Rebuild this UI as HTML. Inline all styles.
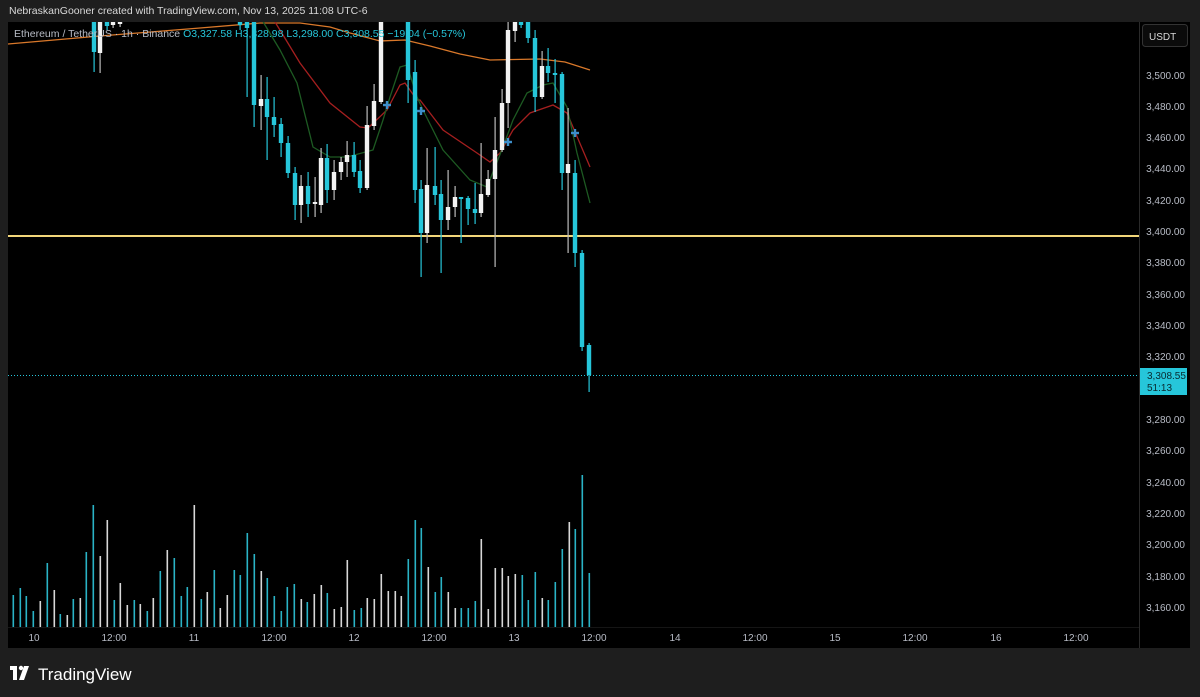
<!DOCTYPE html>
<html><head><meta charset="utf-8"><style>
body{margin:0;width:1200px;height:697px;background:#1e1e1e;overflow:hidden;font-family:"Liberation Sans",sans-serif}
svg{position:absolute;left:0;top:0}
</style></head><body>
<svg id="s" width="1200" height="697" xmlns="http://www.w3.org/2000/svg">
<rect x="0" y="0" width="1200" height="697" fill="#1e1e1e"/>
<rect x="8" y="22" width="1182" height="626" fill="#000"/>
<line x1="1139.5" y1="22" x2="1139.5" y2="648" stroke="#2a2a2a"/>
<line x1="8" y1="627.5" x2="1139" y2="627.5" stroke="#151515"/>
<g id="vol"></g>
<g id="ma" fill="none" stroke-width="1.3">
<polyline stroke="#d9782a" points="8,44 100,36 200,28 260,23 300,23 330,27 350,33 380,41 405,40 430,46 460,54 490,60 540,59 565,62 590,70"/>
<polyline stroke="#a51f1f" points="275,22 283,35 300,63 330,103 360,127 368,128 387,110 400,85 405,83 417,100 420,100 443,130 477,153 490,162 500,153 513,130 530,113 553,105 567,113 590,167"/>
<polyline stroke="#1d5a22" points="262,20 280,50 297,83 313,147 330,157 347,157 373,150 383,120 390,97 400,67 407,65 417,97 423,110 443,150 470,180 487,187 503,147 513,120 527,93 543,85 553,83 567,107 577,153 590,203"/>
</g>
<line x1="8" y1="236" x2="1139" y2="236" stroke="#f2d67a" stroke-width="2"/>
<line x1="8" y1="375.5" x2="1139" y2="375.5" stroke="#26c6da" stroke-dasharray="1,2"/>
<g id="cd"></g>
<g fill="#3d8ec9" id="plus"></g>
<rect x="0" y="0" width="1200" height="22" fill="#1e1e1e"/>
<text x="9" y="14" fill="#d8d8d8" font-size="10.5">NebraskanGooner created with TradingView.com, Nov 13, 2025 11:08 UTC-6</text>
<text x="14" y="37" font-size="10.5" fill="#b8bcc6">Ethereum / TetherUS · 1h · Binance <tspan fill="#26c6da">O3,327.58 H3,328.98 L3,298.00 C3,308.55 −19.04 (−0.57%)</tspan></text>
<rect x="1142.5" y="24.5" width="45" height="22" rx="3" fill="#0b0b0b" stroke="#333"/>
<text x="1149" y="40" fill="#d8d8d8" font-size="10">USDT</text>
<g fill="#b8bcc6" font-size="10" text-anchor="end" id="pl">
<text x="1185" y="79">3,500.00</text><text x="1185" y="110">3,480.00</text><text x="1185" y="141">3,460.00</text><text x="1185" y="172">3,440.00</text><text x="1185" y="204">3,420.00</text><text x="1185" y="235">3,400.00</text><text x="1185" y="266">3,380.00</text><text x="1185" y="298">3,360.00</text><text x="1185" y="329">3,340.00</text><text x="1185" y="360">3,320.00</text><text x="1185" y="423">3,280.00</text><text x="1185" y="454">3,260.00</text><text x="1185" y="486">3,240.00</text><text x="1185" y="517">3,220.00</text><text x="1185" y="548">3,200.00</text><text x="1185" y="580">3,180.00</text><text x="1185" y="611">3,160.00</text>
</g>
<rect x="1140" y="368" width="47" height="27" fill="#26c6da"/>
<text x="1147" y="379" fill="#0a2a30" font-size="10">3,308.55</text>
<text x="1147" y="391" fill="#0a2a30" font-size="10">51:13</text>
<g fill="#b8bcc6" font-size="10" text-anchor="middle">
<text x="34" y="641">10</text><text x="114" y="641">12:00</text><text x="194" y="641">11</text><text x="274" y="641">12:00</text><text x="354" y="641">12</text><text x="434" y="641">12:00</text><text x="514" y="641">13</text><text x="594" y="641">12:00</text><text x="675" y="641">14</text><text x="755" y="641">12:00</text><text x="835" y="641">15</text><text x="915" y="641">12:00</text><text x="996" y="641">16</text><text x="1076" y="641">12:00</text>
</g>
<g fill="#fff"><rect x="10" y="666" width="7" height="4"/><rect x="13" y="666" width="4" height="14"/><circle cx="21" cy="668" r="2.2"/><polygon points="24,666 29,666 24,680 19,680"/></g>
<text x="38" y="680" fill="#fff" font-size="17">TradingView</text>
</svg>
<script>
var NS="http://www.w3.org/2000/svg";
function el(p,t,a){var e=document.createElementNS(NS,t);for(var k in a)e.setAttribute(k,a[k]);p.appendChild(e);return e;}
var C="#26c6da",W="#f2f2f2";
var vol=[[13,32,1],[20,39,1],[26,31,1],[33,16,1],[40,26,0],[47,64,1],[54,37,0],[60,13,1],[67,12,0],[73,28,1],[80,29,0],[86,75,1],[93,122,1],[100,71,0],[107,107,0],[114,27,1],[120,44,0],[127,22,0],[134,27,1],[140,23,0],[147,16,1],[153,29,0],[160,56,1],[167,77,0],[174,69,1],[181,31,1],[187,40,1],[194,122,0],[201,28,1],[207,35,0],[214,57,1],[220,19,0],[227,32,0],[234,57,1],[240,52,1],[247,94,1],[254,73,1],[261,56,0],[267,49,1],[274,31,1],[281,16,1],[287,40,1],[294,43,1],[301,28,0],[307,25,1],[314,33,0],[321,42,0],[327,34,1],[334,18,0],[341,20,0],[347,67,0],[354,17,1],[361,19,1],[367,29,0],[374,28,0],[381,53,0],[388,36,0],[395,36,0],[401,31,0],[408,68,1],[415,107,1],[421,99,1],[428,60,0],[435,35,1],[441,50,1],[448,35,0],[455,19,0],[461,19,1],[468,19,1],[475,26,1],[481,88,0],[488,18,0],[495,59,0],[502,59,0],[508,51,0],[515,53,0],[522,52,1],[528,27,1],[535,55,1],[542,29,0],[548,27,1],[555,45,1],[562,78,1],[569,105,0],[575,98,1],[582,152,1],[589,54,1]];
var g=document.getElementById("vol");
vol.forEach(function(v){el(g,"rect",{x:v[0]-0.5,y:627-v[1],width:1.6,height:v[1],fill:v[2]?"#2ab3c6":"#d8d8d8"});});
var cd=[[94,22,52,22,72,1],[100,22,53,22,73,0],[107,22,26,22,30,1],[113,22,25,22,28,0],[120,22,24,22,27,0],[240,22,25,22,30,1],[247,22,28,22,97,1],[254,22,105,22,127,1],
[261,99,106,75,130,0],[267,99,117,77,160,1],[274,117,125,97,137,1],[281,124,143,118,157,1],[288,143,173,136,178,1],[295,173,205,167,220,1],[301,186,205,175,223,0],[308,186,204,172,217,1],[315,202,204,177,217,0],[321,158,205,148,213,0],[327,158,190,144,203,1],[334,172,190,160,200,0],[341,162,172,157,180,0],[347,155,162,141,177,0],[354,155,172,142,177,1],[360,171,188,160,193,1],[367,125,188,106,190,0],[374,101,126,84,130,0],[381,22,102,22,104,0],
[408,22,80,22,103,1],[415,72,190,60,203,1],[421,189,233,180,277,1],[427,185,233,148,243,0],[435,186,195,147,205,1],[441,194,220,180,273,1],[448,207,220,170,230,0],[455,197,207,186,217,0],[461,197,199,197,243,1],[468,198,209,196,225,1],[475,209,213,183,224,1],[481,194,213,143,217,0],[488,179,195,170,197,0],[495,150,179,117,267,0],[502,103,150,89,152,0],[508,30,103,22,128,0],[515,22,31,22,42,0],[521,22,25,22,28,1],[528,22,38,22,43,1],[535,38,97,30,112,1],[542,66,97,51,99,0],[548,66,73,48,82,1],[555,73,75,59,103,1],[562,74,173,72,190,1],[568,164,173,108,253,0],[575,173,253,160,267,1],[582,253,347,250,351,1],[589,345,375,343,392,1]];
var c=document.getElementById("cd");
cd.forEach(function(d){var col=d[5]?C:W;el(c,"rect",{x:d[0]-0.5,y:d[3],width:1.2,height:d[4]-d[3],fill:d[5]?C:"#bbb"});el(c,"rect",{x:d[0]-2.2,y:d[1],width:4.4,height:Math.max(1.5,d[2]-d[1]),fill:col});});
var p=document.getElementById("plus");
[[387,105],[421,111],[508,142],[575,133]].forEach(function(q){el(p,"rect",{x:q[0]-4,y:q[1]-1.2,width:8,height:2.4});el(p,"rect",{x:q[0]-1.2,y:q[1]-4,width:2.4,height:8});});
</script>
</body></html>
